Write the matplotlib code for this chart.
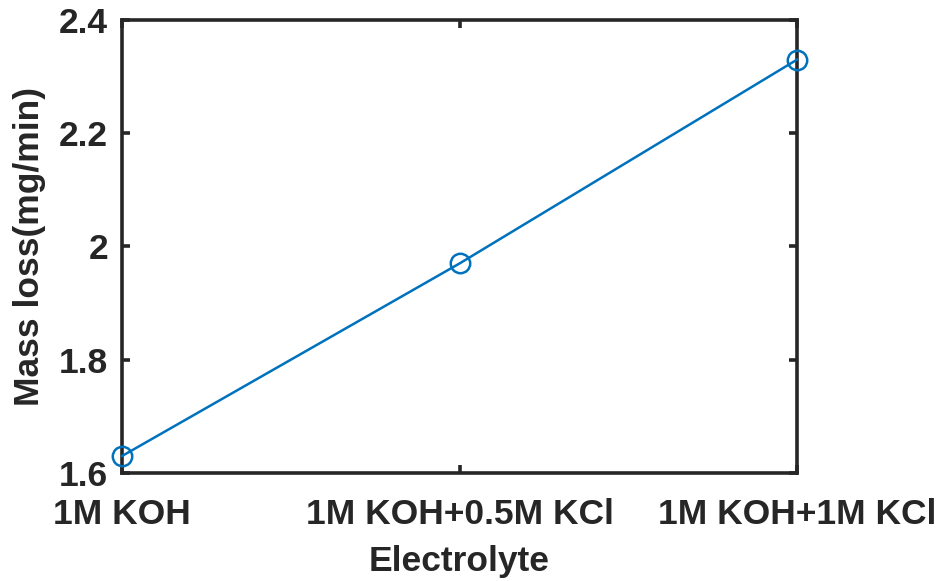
import matplotlib
matplotlib.use("Agg")
import matplotlib.pyplot as plt

# data
electrolytes = ["1M KOH", "1M KOH+0.5M KCl", "1M KOH+1M KCl"]
mass_loss = [1.63, 1.97, 2.33]
y_ticks = [1.6, 1.8, 2.0, 2.2, 2.4]
y_tick_labels = ["1.6", "1.8", "2", "2.2", "2.4"]

text_color = "#262626"
plt.rcParams["font.family"] = ["Liberation Sans", "DejaVu Sans"]
plt.rcParams["font.weight"] = "bold"

fig = plt.figure(figsize=(9.43, 5.81), dpi=100)
ax = fig.add_axes([0.1294, 0.1859, 0.7158, 0.7797])

pos = range(len(electrolytes))
ax.plot(pos, mass_loss, color="#0072BD", linewidth=1.8,
        marker="o", markersize=14, markerfacecolor="none",
        markeredgewidth=1.8, clip_on=False, zorder=5)

ax.set_xlim(0, len(electrolytes) - 1)
ax.set_ylim(1.6, 2.4)
ax.set_xticks(list(pos))
ax.set_xticklabels(electrolytes)
ax.set_yticks(y_ticks)
ax.set_yticklabels(y_tick_labels)

for s in ax.spines.values():
    s.set_linewidth(2.6)
    s.set_color(text_color)
ax.tick_params(direction="in", length=6, width=2.6, colors=text_color,
               labelsize=25.5, top=True, right=True)
ax.tick_params(axis="x", pad=18)
ax.tick_params(axis="y", pad=10)
for lbl in ax.get_xticklabels() + ax.get_yticklabels():
    lbl.set_fontweight("bold")

ax.set_xlabel("Electrolyte", fontsize=25.5, fontweight="bold", color=text_color, labelpad=10)
ax.set_ylabel("Mass loss(mg/min)", fontsize=25.5, fontweight="bold", color=text_color, labelpad=9)

fig.savefig("out.png", dpi=100)
